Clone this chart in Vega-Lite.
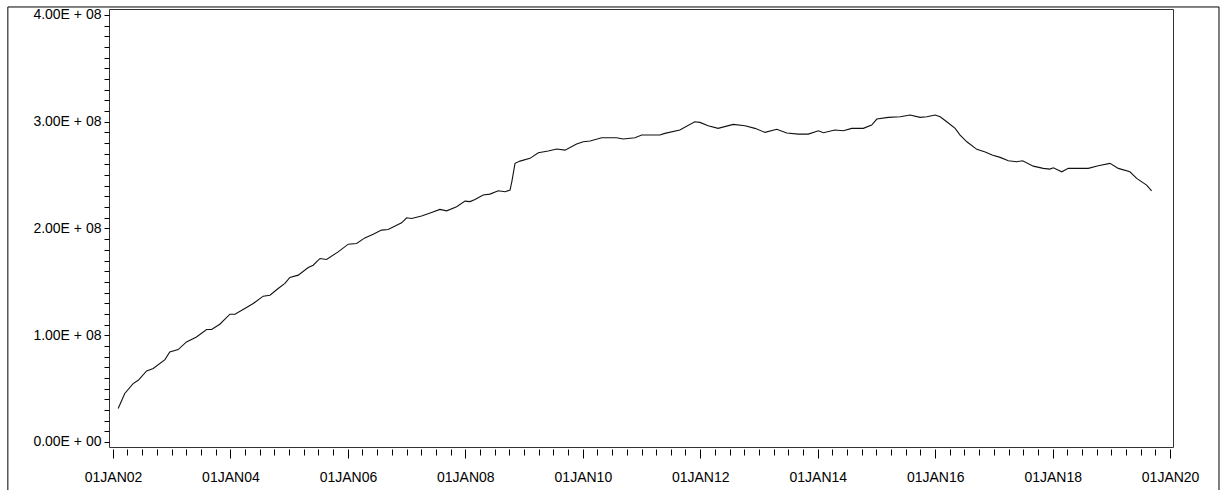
{
  "$schema": "https://vega.github.io/schema/vega-lite/v6.json",
  "width": 1064,
  "height": 438,
  "autosize": {"type": "none"},
  "padding": {"left": 109, "top": 9, "right": 47, "bottom": 43},
  "background": "white",
  "config": {
    "view": {"stroke": "#333", "strokeWidth": 1},
    "axis": {"labelFont": "Liberation Sans", "labelFontSize": 14, "labelColor": "#000", "tickColor": "#000", "tickWidth": 1, "domain": false, "grid": false, "labelOverlap": false, "labelFlush": false}
  },
  "layer": [
    {
      "data": {"values": [
        {"date": "2002-02-02", "value": 31300000},
        {"date": "2002-03-15", "value": 45400000},
        {"date": "2002-05-06", "value": 54700000},
        {"date": "2002-06-07", "value": 57800000},
        {"date": "2002-07-29", "value": 66600000},
        {"date": "2002-09-08", "value": 68800000},
        {"date": "2002-11-20", "value": 77200000},
        {"date": "2002-12-20", "value": 84400000},
        {"date": "2003-02-10", "value": 86600000},
        {"date": "2003-04-03", "value": 93700000},
        {"date": "2003-06-04", "value": 98400000},
        {"date": "2003-08-06", "value": 105400000},
        {"date": "2003-09-06", "value": 105400000},
        {"date": "2003-10-27", "value": 110300000},
        {"date": "2003-12-29", "value": 119700000},
        {"date": "2004-01-29", "value": 119700000},
        {"date": "2004-03-20", "value": 124100000},
        {"date": "2004-05-22", "value": 129700000},
        {"date": "2004-07-23", "value": 136600000},
        {"date": "2004-09-03", "value": 137500000},
        {"date": "2004-10-24", "value": 143800000},
        {"date": "2004-12-05", "value": 148500000},
        {"date": "2005-01-05", "value": 154100000},
        {"date": "2005-02-26", "value": 156300000},
        {"date": "2005-04-29", "value": 163500000},
        {"date": "2005-05-30", "value": 165600000},
        {"date": "2005-07-11", "value": 171900000},
        {"date": "2005-08-21", "value": 171000000},
        {"date": "2005-11-01", "value": 178100000},
        {"date": "2006-01-03", "value": 185300000},
        {"date": "2006-02-24", "value": 186000000},
        {"date": "2006-04-16", "value": 191200000},
        {"date": "2006-06-07", "value": 194700000},
        {"date": "2006-07-29", "value": 198500000},
        {"date": "2006-09-08", "value": 199100000},
        {"date": "2006-12-01", "value": 205300000},
        {"date": "2007-01-01", "value": 210000000},
        {"date": "2007-02-01", "value": 209400000},
        {"date": "2007-04-04", "value": 211600000},
        {"date": "2007-06-05", "value": 215000000},
        {"date": "2007-07-27", "value": 217900000},
        {"date": "2007-09-07", "value": 216500000},
        {"date": "2007-11-08", "value": 220300000},
        {"date": "2007-12-30", "value": 225600000},
        {"date": "2008-01-30", "value": 225200000},
        {"date": "2008-03-01", "value": 227200000},
        {"date": "2008-04-21", "value": 231300000},
        {"date": "2008-06-02", "value": 232200000},
        {"date": "2008-07-24", "value": 235300000},
        {"date": "2008-09-04", "value": 234400000},
        {"date": "2008-10-05", "value": 236000000},
        {"date": "2008-10-16", "value": 243700000},
        {"date": "2008-11-05", "value": 261000000},
        {"date": "2008-12-06", "value": 263100000},
        {"date": "2009-02-06", "value": 265700000},
        {"date": "2009-03-30", "value": 270900000},
        {"date": "2009-05-31", "value": 272500000},
        {"date": "2009-07-22", "value": 274400000},
        {"date": "2009-09-12", "value": 273400000},
        {"date": "2009-11-23", "value": 279100000},
        {"date": "2010-01-04", "value": 281200000},
        {"date": "2010-02-15", "value": 281900000},
        {"date": "2010-04-28", "value": 285000000},
        {"date": "2010-07-30", "value": 285000000},
        {"date": "2010-09-09", "value": 283800000},
        {"date": "2010-11-21", "value": 285000000},
        {"date": "2011-01-02", "value": 287500000},
        {"date": "2011-04-25", "value": 287500000},
        {"date": "2011-05-26", "value": 289100000},
        {"date": "2011-08-27", "value": 292200000},
        {"date": "2011-11-28", "value": 300000000},
        {"date": "2011-12-30", "value": 299400000},
        {"date": "2012-02-19", "value": 296200000},
        {"date": "2012-04-21", "value": 293800000},
        {"date": "2012-07-24", "value": 297500000},
        {"date": "2012-10-05", "value": 296200000},
        {"date": "2012-12-06", "value": 293800000},
        {"date": "2013-02-07", "value": 290000000},
        {"date": "2013-04-21", "value": 292900000},
        {"date": "2013-06-22", "value": 289400000},
        {"date": "2013-09-02", "value": 288400000},
        {"date": "2013-11-03", "value": 288400000},
        {"date": "2014-01-05", "value": 291500000},
        {"date": "2014-02-05", "value": 289700000},
        {"date": "2014-04-18", "value": 292200000},
        {"date": "2014-06-09", "value": 291500000},
        {"date": "2014-07-31", "value": 293800000},
        {"date": "2014-10-11", "value": 293800000},
        {"date": "2014-12-02", "value": 296900000},
        {"date": "2015-01-03", "value": 302500000},
        {"date": "2015-03-16", "value": 304100000},
        {"date": "2015-05-28", "value": 304700000},
        {"date": "2015-07-29", "value": 306300000},
        {"date": "2015-09-29", "value": 304100000},
        {"date": "2015-11-10", "value": 304700000},
        {"date": "2016-01-01", "value": 306300000},
        {"date": "2016-02-01", "value": 304700000},
        {"date": "2016-03-13", "value": 300000000},
        {"date": "2016-05-04", "value": 293800000},
        {"date": "2016-06-04", "value": 287500000},
        {"date": "2016-07-16", "value": 281200000},
        {"date": "2016-09-16", "value": 274100000},
        {"date": "2016-11-07", "value": 271600000},
        {"date": "2016-12-20", "value": 268800000},
        {"date": "2017-02-08", "value": 266600000},
        {"date": "2017-03-31", "value": 263400000},
        {"date": "2017-05-22", "value": 262500000},
        {"date": "2017-06-28", "value": 263400000},
        {"date": "2017-09-02", "value": 258400000},
        {"date": "2017-11-03", "value": 256300000},
        {"date": "2017-12-14", "value": 255600000},
        {"date": "2018-01-05", "value": 256900000},
        {"date": "2018-02-26", "value": 253100000},
        {"date": "2018-04-08", "value": 256300000},
        {"date": "2018-08-10", "value": 256300000},
        {"date": "2018-10-11", "value": 258700000},
        {"date": "2018-12-23", "value": 261000000},
        {"date": "2019-02-13", "value": 256300000},
        {"date": "2019-04-26", "value": 253100000},
        {"date": "2019-06-07", "value": 246900000},
        {"date": "2019-08-08", "value": 240600000},
        {"date": "2019-09-08", "value": 235300000}
      ]},
      "mark": {"type": "line", "stroke": "#111", "strokeWidth": 1.1},
      "encoding": {
        "x": {
          "field": "date", "type": "temporal",
          "scale": {"domain": [{"year": 2001, "month": 12, "date": 7}, {"year": 2020, "month": 1, "date": 19}]},
          "axis": {
            "title": null,
            "offset": 2,
            "labelOverlap": false,
            "tickCount": {"interval": "month", "step": 3},
            "tickSize": {"condition": {"test": "month(datum.value) == 0 && year(datum.value) % 2 == 0", "value": 9}, "value": 6},
            "labelPadding": 12,
            "labelExpr": "(month(datum.value) == 0 && year(datum.value) % 2 == 0) ? '01JAN' + timeFormat(datum.value, '%y') : ''"
          }
        },
        "y": {
          "field": "value", "type": "quantitative",
          "scale": {"domain": [-4700000, 405600000], "nice": false, "zero": false},
          "axis": {
            "title": null,
            "ticks": true,
            "tickSize": 5,
            "tickColor": "#000",
            "tickOpacity": 1,
            "labelPadding": 3,
            "labelOverlap": false,
            "values": [0, 10000000, 20000000, 30000000, 40000000, 50000000, 60000000, 70000000, 80000000, 90000000, 100000000, 110000000, 120000000, 130000000, 140000000, 150000000, 160000000, 170000000, 180000000, 190000000, 200000000, 210000000, 220000000, 230000000, 240000000, 250000000, 260000000, 270000000, 280000000, 290000000, 300000000, 310000000, 320000000, 330000000, 340000000, 350000000, 360000000, 370000000, 380000000, 390000000, 400000000],
            "labelFontSize": {"condition": {"test": "datum.value % 100000000 == 0", "value": 14}, "value": 1},
            "labelExpr": "datum.value % 100000000 == 0 ? format(datum.value / 100000000, '.2f') + 'E + ' + (datum.value == 0 ? '00' : '08') : ''"
          }
        }
      }
    },
    {
      "data": {"values": [{}]},
      "mark": {"type": "rect", "fill": "transparent", "stroke": "#000", "strokeWidth": 1, "clip": false},
      "encoding": {
        "x": {
          "datum": {"year": 2000, "month": 3, "date": 18}, "type": "temporal",
          "axis": {
            "title": null,
            "offset": 2,
            "labelOverlap": false,
            "tickCount": {"interval": "month", "step": 3},
            "tickSize": {"condition": {"test": "month(datum.value) == 0 && year(datum.value) % 2 == 0", "value": 9}, "value": 6},
            "labelPadding": 12,
            "labelExpr": "(month(datum.value) == 0 && year(datum.value) % 2 == 0) ? '01JAN' + timeFormat(datum.value, '%y') : ''"
          }
        },
        "x2": {"datum": {"year": 2020, "month": 10, "date": 31}},
        "y": {
          "datum": 407500000, "type": "quantitative",
          "axis": {
            "title": null,
            "ticks": true,
            "tickSize": 5,
            "tickColor": "#000",
            "tickOpacity": 1,
            "labelPadding": 3,
            "labelOverlap": false,
            "values": [0, 10000000, 20000000, 30000000, 40000000, 50000000, 60000000, 70000000, 80000000, 90000000, 100000000, 110000000, 120000000, 130000000, 140000000, 150000000, 160000000, 170000000, 180000000, 190000000, 200000000, 210000000, 220000000, 230000000, 240000000, 250000000, 260000000, 270000000, 280000000, 290000000, 300000000, 310000000, 320000000, 330000000, 340000000, 350000000, 360000000, 370000000, 380000000, 390000000, 400000000],
            "labelFontSize": {"condition": {"test": "datum.value % 100000000 == 0", "value": 14}, "value": 1},
            "labelExpr": "datum.value % 100000000 == 0 ? format(datum.value / 100000000, '.2f') + 'E + ' + (datum.value == 0 ? '00' : '08') : ''"
          }
        },
        "y2": {"datum": -54600000}
      }
    }
  ]
}
